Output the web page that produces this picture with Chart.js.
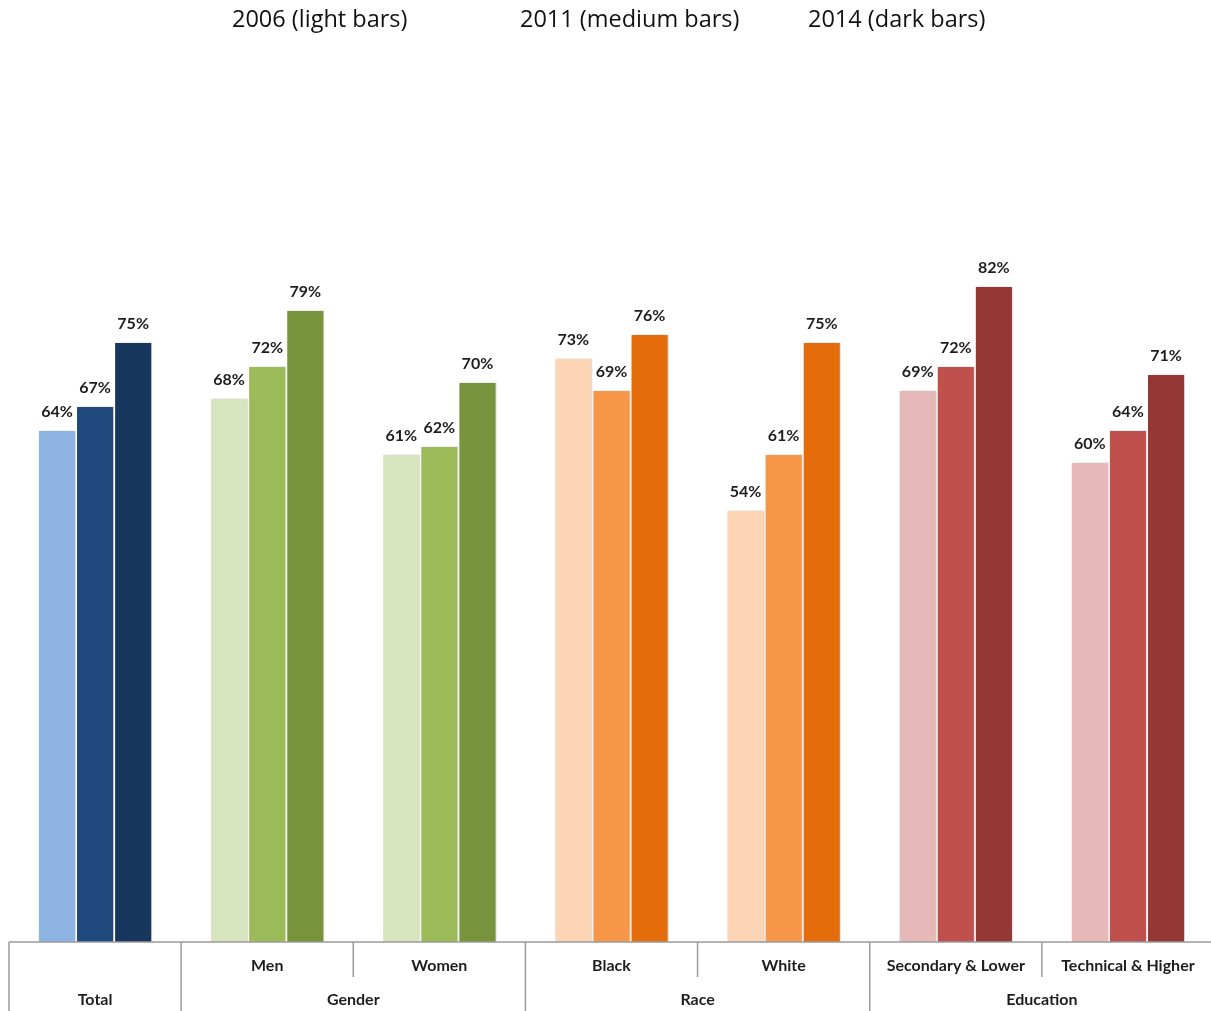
<!DOCTYPE html>
<html>
<head>
<meta charset="utf-8">
<script src="https://cdn.jsdelivr.net/npm/chart.js@4"></script>
<style>
  html, body { margin: 0; padding: 0; background: #fff; overflow: hidden; }
  #wrap { position: relative; width: 1215px; height: 1011px; }
  .key { position: absolute; top: 2px; font-family: 'Open Sans', Lato, sans-serif; font-size: 23.5px; color: #111; white-space: nowrap; }
</style>
</head>
<body>
<div id="wrap">
  <span class="key" style="left:232px">2006 (light bars)</span>
  <span class="key" style="left:520px">2011 (medium bars)</span>
  <span class="key" style="left:808px">2014 (dark bars)</span>
  <canvas id="barChart" width="1215" height="1011"></canvas>
</div>
<script>
var categories = ['Total', 'Men', 'Women', 'Black', 'White', 'Secondary & Lower', 'Technical & Higher'];
var subLabels = ['', 'Men', 'Women', 'Black', 'White', 'Secondary & Lower', 'Technical & Higher'];
var groupNames = ['Total', 'Gender', 'Race', 'Education'];
var groupSizes = [1, 2, 2, 2];

var values2006 = [64, 68, 61, 73, 54, 69, 60];
var values2011 = [67, 72, 62, 69, 61, 72, 64];
var values2014 = [75, 79, 70, 76, 75, 82, 71];

// colour of each bar, by category
var lightColors  = ['#8DB3E2', '#D7E4BD', '#D7E4BD', '#FCD5B5', '#FCD5B5', '#E6B9B8', '#E6B9B8'];
var mediumColors = ['#1F497D', '#9BBB59', '#9BBB59', '#F79646', '#F79646', '#C0504D', '#C0504D'];
var darkColors   = ['#17375E', '#77933C', '#77933C', '#E46C0A', '#E46C0A', '#953735', '#953735'];

var labelFont = "bold 16px Lato, 'Open Sans', sans-serif";

// soft shadow behind the bars
var barShadow = {
  id: 'barShadow',
  beforeDatasetsDraw: function(chart) {
    var c = chart.ctx;
    c.save();
    c.shadowColor = 'rgba(0,0,0,0.18)';
    c.shadowBlur = 3;
    c.shadowOffsetX = 2;
    c.shadowOffsetY = 0;
  },
  afterDatasetsDraw: function(chart) {
    chart.ctx.restore();
  }
};

// value labels above every bar
var valueLabels = {
  id: 'valueLabels',
  afterDatasetsDraw: function(chart) {
    var c = chart.ctx;
    c.save();
    c.font = labelFont;
    c.textAlign = 'center';
    c.textBaseline = 'middle';
    c.fillStyle = '#1e1e1e';
    c.shadowColor = 'rgba(255,255,255,0.9)';
    c.shadowBlur = 2;
    chart.data.datasets.forEach(function(ds, i) {
      chart.getDatasetMeta(i).data.forEach(function(bar, j) {
        c.fillText(ds.data[j] + '%', bar.x, bar.y - 18);
      });
    });
    c.restore();
  }
};

// two-level category axis: sub labels and group labels with divider lines
var groupAxis = {
  id: 'groupAxis',
  afterDraw: function(chart) {
    var c = chart.ctx, x = chart.scales.x, area = chart.chartArea;
    var step = (area.right - area.left) / categories.length;
    var base = area.bottom, bottom = chart.height;
    c.save();
    c.strokeStyle = '#9a9a9a';
    c.lineWidth = 1.5;
    c.beginPath();
    c.moveTo(area.left, base);
    c.lineTo(area.right, base);
    c.stroke();

    c.font = labelFont;
    c.textAlign = 'center';
    c.textBaseline = 'middle';
    c.fillStyle = '#1e1e1e';

    var idx = 0;
    groupNames.forEach(function(name, g) {
      var first = idx, last = idx + groupSizes[g] - 1;
      var left = x.getPixelForValue(first) - step / 2;
      var right = x.getPixelForValue(last) + step / 2;
      c.beginPath();
      c.moveTo(left, base);
      c.lineTo(left, bottom);
      c.stroke();
      for (var k = first; k <= last; k++) {
        if (k > first) {
          var sx = x.getPixelForValue(k) - step / 2;
          c.beginPath();
          c.moveTo(sx, base);
          c.lineTo(sx, base + 35);
          c.stroke();
        }
        if (subLabels[k]) c.fillText(subLabels[k], x.getPixelForValue(k), base + 24);
      }
      c.fillText(name, (left + right) / 2, base + 58);
      idx = last + 1;
    });
    c.beginPath();
    c.moveTo(area.right, base);
    c.lineTo(area.right, bottom);
    c.stroke();
    c.restore();
  }
};

var barData = {
  labels: categories,
  datasets: [{
    label: '2006',
    data: values2006,
    backgroundColor: lightColors,
    borderColor: '#ffffff',
    borderWidth: 1
  }, {
    label: '2011',
    data: values2011,
    backgroundColor: mediumColors,
    borderColor: '#ffffff',
    borderWidth: 1
  }, {
    label: '2014',
    data: values2014,
    backgroundColor: darkColors,
    borderColor: '#ffffff',
    borderWidth: 1
  }]
};

var ctx = document.getElementById('barChart').getContext('2d');
var myChart = new Chart(ctx, {
  type: 'bar',
  data: barData,
  options: {
    responsive: false,
    animation: false,
    layout: { padding: { left: 9, right: 1, top: 142, bottom: 69 } },
    datasets: { bar: { categoryPercentage: 0.664, barPercentage: 1 } },
    plugins: {
      legend: { display: false },
      title: { display: false },
      tooltip: { enabled: false }
    },
    scales: {
      x: { display: false },
      y: { display: false, min: 0, max: 100 }
    }
  },
  plugins: [barShadow, valueLabels, groupAxis]
});
</script>
</body>
</html>
